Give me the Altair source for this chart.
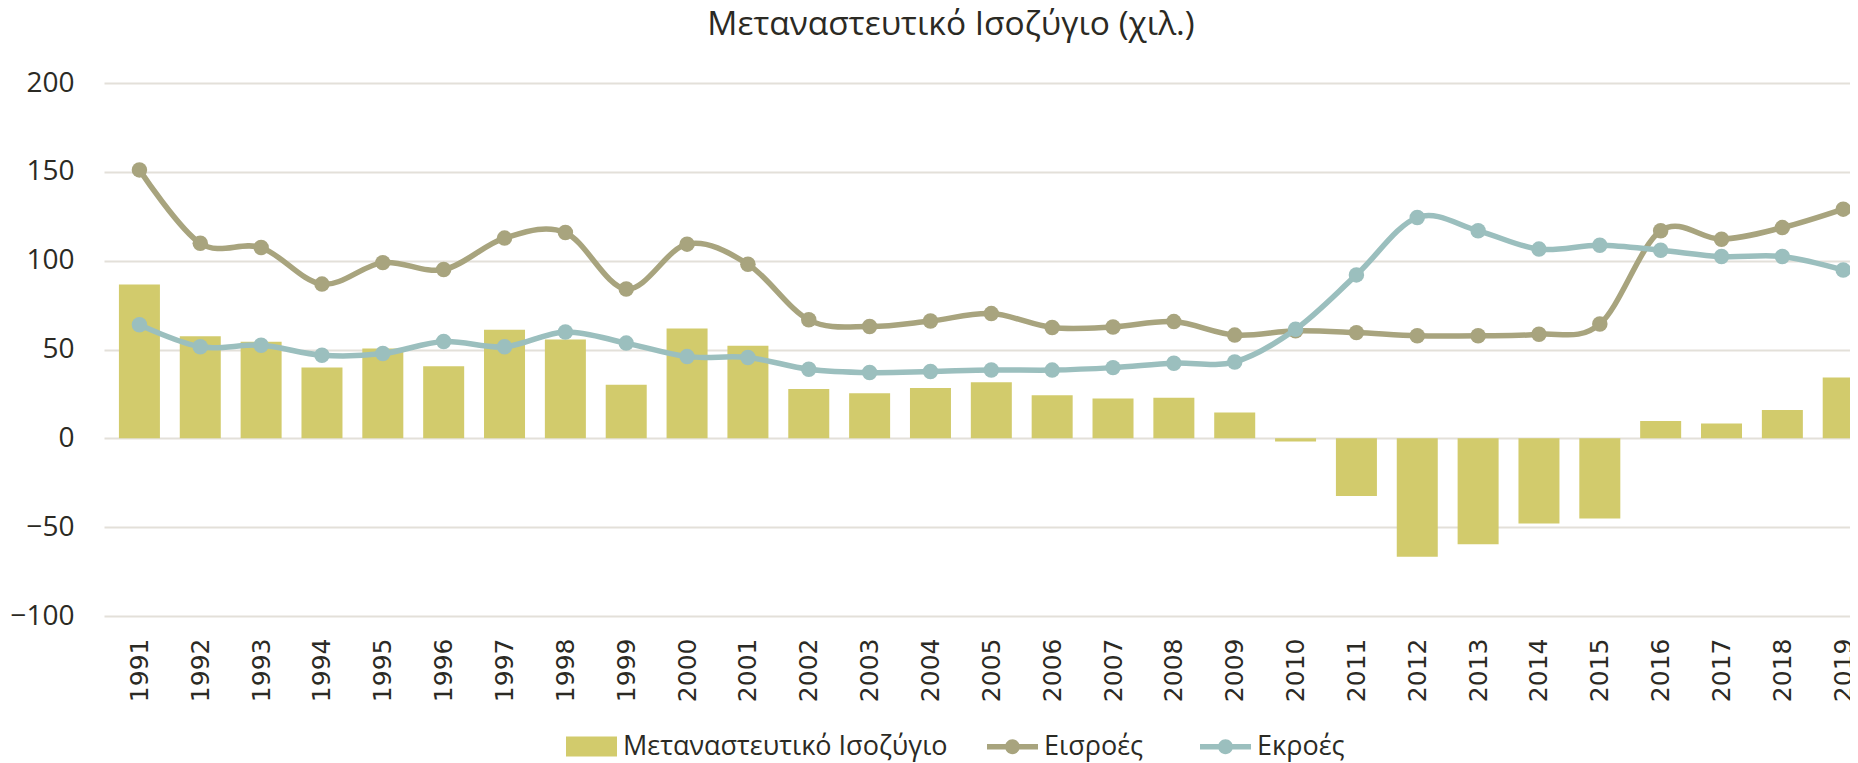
import altair as alt
import pandas as pd

years = list(range(1991, 2020))
net = [86.6, 57.5, 54.3, 39.8, 50.5, 40.6, 61.1, 55.6, 30.1, 61.8,
       52.1, 27.7, 25.4, 28.3, 31.6, 24.3, 22.4, 22.8, 14.5, -1.8,
       -32.5, -66.7, -59.6, -47.9, -45.1, 9.8, 8.3, 15.9, 34.2]
inflows = [151.1, 109.8, 107.4, 86.8, 98.9, 95.0, 112.7, 115.8, 84.0, 109.3,
           98.0, 66.7, 62.9, 66.0, 70.2, 62.4, 62.7, 65.7, 58.1, 60.5,
           59.5, 57.7, 57.7, 58.6, 64.3, 116.8, 112.1, 118.6, 129.0]
outflows = [63.9, 51.5, 52.4, 46.8, 47.7, 54.5, 51.5, 59.9, 53.6, 46.0,
            45.5, 38.9, 37.0, 37.6, 38.5, 38.4, 39.8, 42.3, 43.0, 61.4,
            92.0, 124.3, 116.8, 106.5, 108.7, 105.9, 102.3, 102.3, 94.7]

bar_name = "Μεταναστευτικό Ισοζύγιο"
line_names = ["Εισροές", "Εκροές"]
title_text = "Μεταναστευτικό Ισοζύγιο (χιλ.)"

bar_color = "#D2CB6C"
line_colors = ["#A8A47E", "#9BBFBE"]
text_color = "#2B2A24"
grid_color = "#E3E0D9"

PLOT_W = 1746
STEP = 61.2

bars_df = pd.DataFrame({"year": years, "value": net, "series": bar_name})
lines_df = pd.concat([
    pd.DataFrame({"year": years, "value": inflows, "series": line_names[0]}),
    pd.DataFrame({"year": years, "value": outflows, "series": line_names[1]}),
])

x_enc = alt.X(
    "year:Q",
    scale=alt.Scale(domain=[1990.5, 1990.5 + PLOT_W / STEP], nice=False, zero=False),
    axis=alt.Axis(
        values=years, format="d", labelAngle=-90, grid=False, domain=False,
        ticks=False, labelPadding=22, labelFont="DejaVu Sans", labelFontSize=25,
        labelColor=text_color, labelFlush=False, labelOverlap=False, title=None,
    ),
)
y_enc = alt.Y(
    "value:Q",
    scale=alt.Scale(domain=[-100, 200], nice=False),
    axis=alt.Axis(
        values=[-100, -50, 0, 50, 100, 150, 200], grid=True, gridColor=grid_color,
        gridWidth=2, domain=False, ticks=False, labelFont="Open Sans",
        labelFontSize=28, labelColor=text_color, labelPadding=30, title=None,
    ),
)

rect_path = "M-1,-0.39H1V0.39H-1Z"
line_path = ("M-1,-0.11H1V0.11H-1Z "
             "M0.29,0A0.29,0.29,0,1,1,-0.29,0A0.29,0.29,0,1,1,0.29,0Z")

bars = alt.Chart(bars_df).mark_bar(size=41, clip=True).encode(
    x=x_enc,
    y=y_enc,
    color=alt.Color(
        "series:N",
        scale=alt.Scale(domain=[bar_name], range=[bar_color]),
        legend=alt.Legend(
            orient="none", legendX=462, legendY=638, direction="horizontal",
            title=None, symbolType=rect_path, symbolSize=2601,
            symbolStrokeWidth=0, symbolOpacity=1, labelFont="Open Sans",
            labelFontSize=27, labelColor=text_color, labelOffset=6, padding=0,
            labelLimit=0,
        ),
    ),
)

line_scale = alt.Scale(domain=line_names, range=line_colors)
line_legend = alt.Legend(
    orient="none", legendX=883, legendY=638, direction="horizontal",
    title=None, symbolType=line_path, symbolSize=2601, symbolStrokeWidth=0,
    symbolOpacity=1, labelFont="Open Sans", labelFontSize=27,
    labelColor=text_color, labelOffset=6, columnPadding=56, padding=0,
    labelLimit=0,
)

layers = []
for i, name in enumerate(line_names):
    base = alt.Chart(lines_df).transform_filter(alt.datum.series == name)
    ln = base.mark_line(interpolate="cardinal", strokeWidth=5.5, clip=True,
                        color=line_colors[i]).encode(x=x_enc, y=y_enc)
    pt = base.mark_point(filled=True, size=240, opacity=1, clip=True).encode(
        x=x_enc, y=y_enc,
        color=alt.Color("series:N", scale=line_scale, legend=line_legend),
    )
    layers += [ln, pt]

lines = alt.layer(*layers)

chart = alt.layer(bars, lines).resolve_scale(color="independent").properties(
    width=PLOT_W,
    height=533,
    padding={"left": 96, "top": 75, "right": 0, "bottom": 146},
    autosize=alt.AutoSizeParams(type="none"),
    background="white",
    title=alt.TitleParams(
        title_text, font="Open Sans", fontSize=33.5, fontWeight="normal",
        color=text_color, anchor="middle", frame="group", baseline="alphabetic",
        offset=46, dx=-26, dy=45,
    ),
).configure_view(stroke=None)

chart.save("out.html", embed_options={"renderer": "svg", "actions": False})
